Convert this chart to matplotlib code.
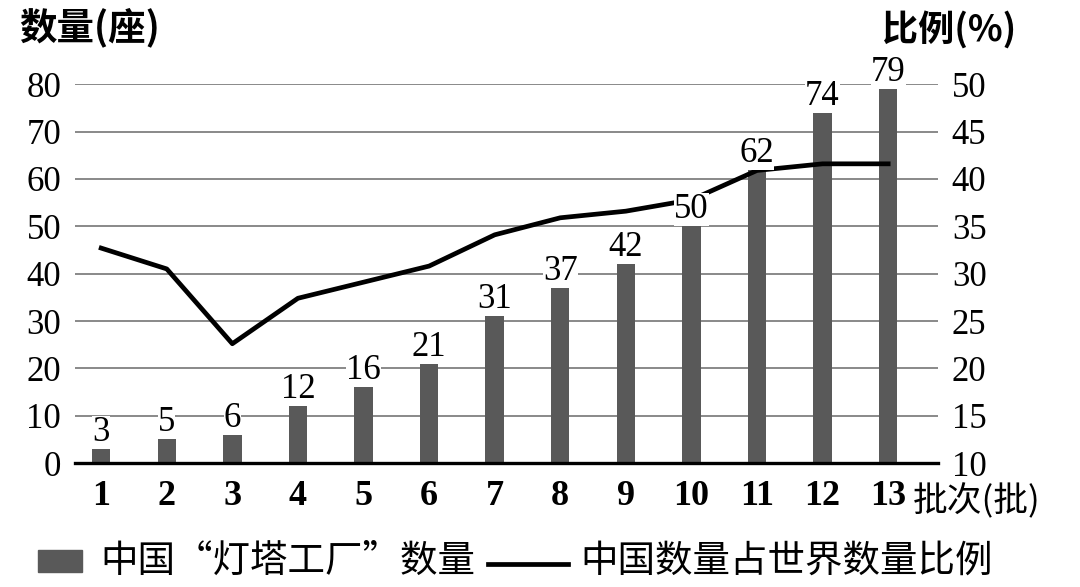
import matplotlib
matplotlib.use("Agg")
import matplotlib.pyplot as plt
from matplotlib.patches import Rectangle
from matplotlib.lines import Line2D

# data
batches = [1, 2, 3, 4, 5, 6, 7, 8, 9, 10, 11, 12, 13]
counts = [3, 5, 6, 12, 16, 21, 31, 37, 42, 50, 62, 74, 79]
share = [32.7, 30.5, 22.6, 27.4, 29.1, 30.8, 34.1, 35.9, 36.6, 37.8, 40.9, 41.6, 41.6]
left_ticks = [0, 10, 20, 30, 40, 50, 60, 70, 80]
right_ticks = [10, 15, 20, 25, 30, 35, 40, 45, 50]

serif = "Liberation Serif"
cjk = ["Noto Sans CJK SC", "DejaVu Sans"]
bar_color = "#595959"
grid_color = "#808080"

fig = plt.figure(figsize=(10.8, 5.87), dpi=100)
ax = fig.add_axes([0.0694, 0.2112, 0.7991, 0.6452])

# bars on the left axis
ax.bar(batches, counts, width=0.28, color=bar_color, zorder=2)
ax.set_xlim(0.6, 13.76)
ax.set_ylim(0, 80)
ax.set_yticks(left_ticks)
ax.set_xticks(batches)
ax.set_xticklabels([str(b) for b in batches], fontsize=26, family=serif, fontweight="bold")
ax.set_yticklabels([str(t) for t in left_ticks], fontsize=25, family=serif)
ax.tick_params(axis="y", length=0, pad=10)
ax.tick_params(axis="x", length=0, pad=12)
for t in left_ticks[1:]:
    ax.axhline(t, color=grid_color, lw=1.3, zorder=1)
for s in ["top", "left", "right"]:
    ax.spines[s].set_visible(False)
ax.spines["bottom"].set_linewidth(2.4)
ax.spines["bottom"].set_color("black")

# ratio line on the right axis
ax2 = ax.twinx()
ax2.plot(batches, share, color="black", lw=3.4, zorder=3)
ax2.set_ylim(10, 50)
ax2.set_yticks(right_ticks)
ax2.set_yticklabels([str(t) for t in right_ticks], fontsize=25, family=serif)
ax2.tick_params(axis="y", length=0, pad=10)
for s in ["top", "left", "right", "bottom"]:
    ax2.spines[s].set_visible(False)

# bar values, on top of the line, placed in the left axis' data coords
for xb, v in zip(batches, counts):
    ax2.annotate(str(v), (xb, v), xycoords=ax.transData, xytext=(0, 0),
                 textcoords="offset points", ha="center", va="bottom",
                 fontsize=25, family=serif,
                 bbox=dict(facecolor="white", edgecolor="none", pad=0), zorder=5)

fig.text(0.018, 0.954, "数量(座)", fontsize=27, family=cjk, fontweight="bold",
         ha="left", va="center")
fig.text(0.817, 0.949, "比例(%)", fontsize=26, family=cjk, fontweight="bold",
         ha="left", va="center")
fig.text(0.845, 0.145, "批次(批)", fontsize=25, family=cjk, ha="left", va="center")

# legend drawn by hand
fig.patches.append(Rectangle((0.035, 1 - 572 / 587), 44 / 1080, 22 / 587,
                             transform=fig.transFigure, color=bar_color))
fig.text(0.093, 1 - 561 / 587, "中国“灯塔工厂”数量", fontsize=27, family=cjk,
         ha="left", va="center")
fig.lines.append(Line2D([488 / 1080, 568 / 1080], [1 - 564 / 587, 1 - 564 / 587],
                        transform=fig.transFigure, color="black", lw=3.4))
fig.text(0.537, 1 - 561 / 587, "中国数量占世界数量比例", fontsize=27, family=cjk,
         ha="left", va="center")

fig.savefig("out.png", dpi=100)
